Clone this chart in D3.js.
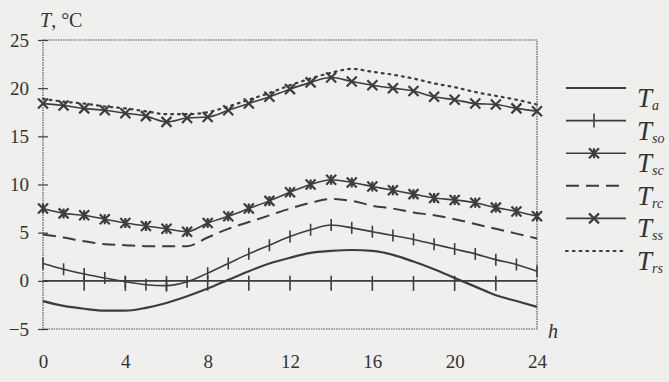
<!DOCTYPE html>
<html>
<head>
<meta charset="utf-8">
<script src="https://cdn.jsdelivr.net/npm/d3@7"></script>
<style>
	body { margin: 0; background: #efefed; }
	svg { display: block; }
	text { font-family: "Liberation Serif", "DejaVu Serif", serif; fill: #333; }
</style>
</head>
<body>
<div id="chart"></div>
<script>
// hours 0..24, one value per hour
var hours = d3.range(0, 25);
var xTicks = [0, 4, 8, 12, 16, 20, 24];
var yTicks = [-5, 0, 5, 10, 15, 20, 25];
var zeroTicks = [2, 4, 6, 8, 10, 12, 14, 16, 18, 20, 22];

var Ta  = [-2.1, -2.6, -2.9, -3.1, -3.1, -2.8, -2.3, -1.6, -0.8, 0.1, 1.0, 1.8, 2.4, 2.9, 3.1, 3.2, 3.1, 2.7, 2.0, 1.2, 0.3, -0.6, -1.5, -2.1, -2.7];
var Tso = [1.8, 1.2, 0.7, 0.3, -0.1, -0.4, -0.5, -0.1, 0.8, 1.8, 2.8, 3.7, 4.6, 5.3, 5.8, 5.5, 5.1, 4.7, 4.3, 3.8, 3.3, 2.8, 2.2, 1.7, 1.0];
var Tsc = [7.5, 7.0, 6.8, 6.4, 6.0, 5.7, 5.4, 5.1, 6.0, 6.7, 7.5, 8.3, 9.2, 10.0, 10.5, 10.2, 9.8, 9.4, 9.0, 8.6, 8.4, 8.1, 7.6, 7.2, 6.7];
var Trc = [4.8, 4.5, 4.1, 3.8, 3.7, 3.6, 3.6, 3.6, 4.5, 5.4, 6.1, 6.8, 7.5, 8.1, 8.5, 8.3, 7.8, 7.5, 7.1, 6.8, 6.4, 5.9, 5.4, 4.9, 4.4];
var Tss = [18.4, 18.2, 17.9, 17.7, 17.4, 17.1, 16.5, 16.9, 17.0, 17.7, 18.4, 19.1, 19.9, 20.6, 21.1, 20.7, 20.3, 20.0, 19.7, 19.1, 18.8, 18.4, 18.3, 17.9, 17.6];
var Trs = [18.9, 18.6, 18.4, 18.1, 17.9, 17.6, 17.3, 17.3, 17.5, 18.1, 18.8, 19.5, 20.3, 21.0, 21.6, 22.0, 21.7, 21.4, 21.0, 20.5, 20.1, 19.6, 19.2, 18.8, 18.3];

var seriesNames = ["a", "so", "sc", "rc", "ss", "rs"];
var seriesValues = [Ta, Tso, Tsc, Trc, Tss, Trs];

var ink = "#3d3d3d";
var margin = { top: 40, right: 132, bottom: 53, left: 43 },
	width = 669 - margin.left - margin.right,
	height = 382 - margin.top - margin.bottom;

var styles = {
	a:  { width: 2.2, dash: null, marker: null },
	so: { width: 1.6, dash: null, marker: "plus" },
	sc: { width: 1.6, dash: null, marker: "star" },
	rc: { width: 2.0, dash: "13,7", marker: null },
	ss: { width: 1.6, dash: null, marker: "cross" },
	rs: { width: 2.2, dash: "1.8,5", marker: null }
};

var x = d3.scaleLinear().domain([0, 24]).range([0, width]);
var y = d3.scaleLinear().domain([-5, 25]).range([height, 0]);

var svg = d3.select("#chart").append("svg")
	.attr("width", 669)
	.attr("height", 382)
	.append("g")
	.attr("transform", `translate(${margin.left},${margin.top})`);

// frame
svg.append("rect")
	.attr("width", width)
	.attr("height", height)
	.attr("fill", "none")
	.attr("stroke", "#555")
	.attr("stroke-width", 1.2)
	.attr("stroke-dasharray", "1.5,1");

// y axis with crossing ticks
var yAxis = svg.append("g")
	.call(d3.axisLeft(y).tickValues(yTicks).tickSize(5).tickPadding(9).tickFormat(d3.format("d")));
yAxis.select(".domain").remove();
yAxis.selectAll("line").attr("x1", -5).attr("x2", 5).attr("stroke", ink).attr("stroke-width", 1.2);
yAxis.selectAll("text").style("font-size", "19px").attr("fill", "#333").style("font-family", "Liberation Serif");

// x axis labels only
var xAxis = svg.append("g")
	.attr("transform", `translate(0,${height})`)
	.call(d3.axisBottom(x).tickValues(xTicks).tickSize(0).tickPadding(26));
xAxis.select(".domain").remove();
xAxis.selectAll("text").style("font-size", "19px").attr("fill", "#333").style("font-family", "Liberation Serif");

// zero reference line with hour ticks
svg.append("line")
	.attr("x1", x(0)).attr("x2", x(24))
	.attr("y1", y(0)).attr("y2", y(0))
	.attr("stroke", ink).attr("stroke-width", 1.6);
svg.selectAll(".zeroTick")
	.data(zeroTicks)
	.enter()
	.append("line")
	.attr("class", "zeroTick")
	.attr("x1", d => x(d)).attr("x2", d => x(d))
	.attr("y1", y(0) - 5).attr("y2", y(0) + 10)
	.attr("stroke", ink).attr("stroke-width", 1.6);

// axis titles
var yTitle = svg.append("text")
	.attr("x", -3)
	.attr("y", -13)
	.style("font-size", "20px");
yTitle.append("tspan").style("font-style", "italic").text("T");
yTitle.append("tspan").text(", °C");

svg.append("text")
	.attr("x", width + 11)
	.attr("y", height + 9)
	.style("font-size", "20px")
	.style("font-style", "italic")
	.text("h");

function markerPath(type, s) {
	if (type === "plus") return `M0,${-s}V${s}`;
	if (type === "cross") return `M${-s},${-s}L${s},${s}M${-s},${s}L${s},${-s}`;
	// star: X with vertical bar
	return `M${-s},${-s}L${s},${s}M${-s},${s}L${s},${-s}M0,${-s}V${s}`;
}

var line = d3.line()
	.x((d, i) => x(hours[i]))
	.y(d => y(d))
	.curve(d3.curveMonotoneX);

seriesNames.forEach((name, k) => {
	var st = styles[name];
	var values = seriesValues[k];
	svg.append("path")
		.datum(values)
		.attr("fill", "none")
		.attr("stroke", ink)
		.attr("stroke-width", st.width)
		.attr("stroke-dasharray", st.dash)
		.attr("stroke-linecap", name === "rs" ? "round" : "butt")
		.attr("d", line);

	if (st.marker) {
		svg.selectAll(".m" + name)
			.data(values)
			.enter()
			.append("path")
			.attr("class", "m" + name)
			.attr("transform", (d, i) => `translate(${x(hours[i])},${y(d)})`)
			.attr("d", markerPath(st.marker, st.marker === "plus" ? 6 : 5))
			.attr("fill", "none")
			.attr("stroke", ink)
			.attr("stroke-width", st.marker === "plus" ? 1.6 : 2.2);
	}
});

// legend
var legend = svg.append("g")
	.attr("transform", `translate(${width + 29},${48})`);

seriesNames.forEach((name, k) => {
	var st = styles[name];
	var g = legend.append("g").attr("transform", `translate(0,${k * 32.6})`);
	g.append("line")
		.attr("x1", 0).attr("x2", 60)
		.attr("stroke", ink)
		.attr("stroke-width", st.width)
		.attr("stroke-dasharray", st.dash)
		.attr("stroke-linecap", name === "rs" ? "round" : "butt");
	if (st.marker) {
		g.append("path")
			.attr("transform", "translate(28,0)")
			.attr("d", markerPath(st.marker, st.marker === "plus" ? 7 : 5))
			.attr("fill", "none")
			.attr("stroke", ink)
			.attr("stroke-width", st.marker === "plus" ? 1.6 : 2.2);
	}
	var t = g.append("text")
		.attr("x", 71)
		.attr("y", 19)
		.style("font-style", "italic");
	t.append("tspan").style("font-size", "27px").text("T");
	t.append("tspan").style("font-size", "14px").attr("dy", 3).text(name);
});
</script>
</body>
</html>
